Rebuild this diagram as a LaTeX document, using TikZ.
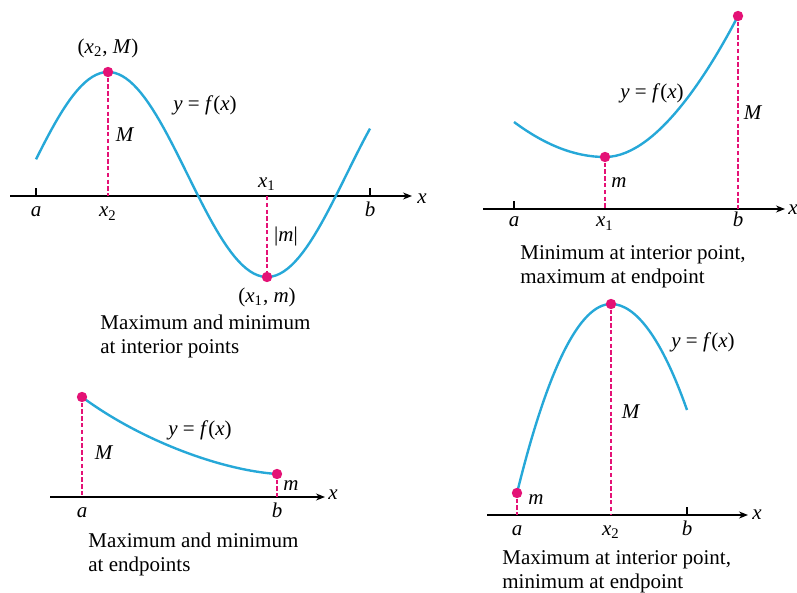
\documentclass[tikz,border=0pt]{standalone}
\usepackage{fontspec}
\setmainfont{Liberation Serif}
\usetikzlibrary{arrows.meta}
\definecolor{curveblue}{RGB}{38,168,216}
\definecolor{dotpink}{RGB}{228,18,118}
\newcommand{\iv}[1]{\textit{#1}}

\begin{document}
\begin{tikzpicture}[x=0.5pt, y=0.5pt,
    axis/.style={-{Stealth[length=4.5pt,width=3.5pt]}, line width=0.6pt},
    tickmark/.style={line width=0.6pt},
    graph/.style={curveblue, line width=1.2pt},
    drop/.style={dotpink, line width=0.65pt, dash pattern=on 2.2pt off 1.2pt},
    dot/.style={circle, fill=dotpink, inner sep=0pt, minimum size=5.2pt},
    lbl/.style={font=\fontsize{10.5}{12}\selectfont, inner sep=1pt},
    ticklbl/.style={lbl, anchor=base},
    caption/.style={font=\fontsize{10.5}{12}\selectfont, align=left, anchor=north west, inner sep=0pt}
  ]
    \useasboundingbox (0,0) rectangle (797,-593);

    \coordinate (A1s) at (10,-196);
    \coordinate (A1e) at (412,-196);
    \draw[axis] (A1s) -- (A1e);
    \node[lbl] (X1) at (422,-199) {\iv{x}};
    \draw[tickmark] (36,-196) -- (36,-188);
    \draw[tickmark] (370,-196) -- (370,-188);
    \draw[graph] plot[domain=36:370, samples=90] (\x, {-174.5+102.5*cos(1.13208*(\x-108))});
    \node[dot] (P1max) at (108,-72) {};
    \node[dot] (P1min) at (267,-277) {};
    \coordinate (F1max) at (108,-196);
    \coordinate (F1min) at (267,-196);
    \draw[drop] (P1max) -- (F1max);
    \draw[drop] (F1min) -- (P1min);
    \node[ticklbl] (a1) at (36,-217) {\iv{a}};
    \node[ticklbl] (x21) at (108,-217) {\iv{x}\textsubscript{2}};
    \node[ticklbl] (b1) at (370,-217) {\iv{b}};
    \node[lbl] (x11) at (267,-184) {\iv{x}\textsubscript{1}};
    \node[lbl] (maxlbl1) at (108,-48) {(\iv{x}\textsubscript{2}, \iv{M})};
    \node[lbl] (minlbl1) at (267,-297) {(\iv{x}\textsubscript{1}, \iv{m})};
    \node[lbl] (M1) at (125,-135) {\iv{M}};
    \node[lbl] (m1) at (286,-236) {|\iv{m}|};
    \node[lbl] (f1) at (205,-105) {\iv{y} = \iv{f}(\iv{x})};
    \node[caption] (cap1) at (100,-315) {Maximum and minimum\\at interior points};

    \coordinate (A2s) at (483,-209);
    \coordinate (A2e) at (785,-209);
    \draw[axis] (A2s) -- (A2e);
    \node[lbl] (X2) at (793,-210) {\iv{x}};
    \draw[tickmark] (514,-209) -- (514,-201);
    \draw[graph] (514,-122) .. controls (545,-145) and (575,-157) .. (605,-157)
      .. controls (660,-157) and (715,-60) .. (738,-16);
    \node[dot] (P2min) at (605,-157) {};
    \node[dot] (P2max) at (738,-16) {};
    \coordinate (F2min) at (605,-209);
    \coordinate (F2max) at (738,-209);
    \draw[drop] (P2min) -- (F2min);
    \draw[drop] (P2max) -- (F2max);
    \node[ticklbl] (a2) at (514,-227) {\iv{a}};
    \node[ticklbl] (x12) at (605,-227) {\iv{x}\textsubscript{1}};
    \node[ticklbl] (b2) at (738,-227) {\iv{b}};
    \node[lbl] (m2) at (619,-183) {\iv{m}};
    \node[lbl] (M2) at (753,-113) {\iv{M}};
    \node[lbl] (f2) at (652,-93) {\iv{y} = \iv{f}(\iv{x})};
    \node[caption] (cap2) at (520,-245) {Minimum at interior point,\\maximum at endpoint};

    \coordinate (A3s) at (50,-497);
    \coordinate (A3e) at (325,-497);
    \draw[axis] (A3s) -- (A3e);
    \node[lbl] (X3) at (333,-495) {\iv{x}};
    \draw[graph] (82,-397) .. controls (140,-440) and (220,-470) .. (277,-474);
    \node[dot] (P3max) at (82,-397) {};
    \node[dot] (P3min) at (277,-474) {};
    \coordinate (F3max) at (82,-497);
    \coordinate (F3min) at (277,-497);
    \draw[drop] (P3max) -- (F3max);
    \draw[drop] (P3min) -- (F3min);
    \node[ticklbl] (a3) at (82,-517) {\iv{a}};
    \node[ticklbl] (b3) at (277,-517) {\iv{b}};
    \node[lbl] (M3) at (104,-453) {\iv{M}};
    \node[lbl] (m3) at (291,-486) {\iv{m}};
    \node[lbl] (f3) at (200,-430) {\iv{y} = \iv{f}(\iv{x})};
    \node[caption] (cap3) at (88,-533) {Maximum and minimum\\at endpoints};

    \coordinate (A4s) at (487,-515);
    \coordinate (A4e) at (748,-515);
    \draw[axis] (A4s) -- (A4e);
    \node[lbl] (X4) at (757,-515) {\iv{x}};
    \draw[tickmark] (687,-515) -- (687,-507);
    \draw[graph] (517,-493) .. controls (548,-367) and (580,-304) .. (611,-304)
      .. controls (636,-304) and (662,-339) .. (687,-410);
    \node[dot] (P4min) at (517,-493) {};
    \node[dot] (P4max) at (611,-304) {};
    \coordinate (F4min) at (517,-515);
    \coordinate (F4max) at (611,-515);
    \draw[drop] (P4min) -- (F4min);
    \draw[drop] (P4max) -- (F4max);
    \node[ticklbl] (a4) at (517,-535) {\iv{a}};
    \node[ticklbl] (x24) at (611,-535) {\iv{x}\textsubscript{2}};
    \node[ticklbl] (b4) at (687,-535) {\iv{b}};
    \node[lbl] (m4) at (536,-500) {\iv{m}};
    \node[lbl] (M4) at (631,-412) {\iv{M}};
    \node[lbl] (f4) at (703,-342) {\iv{y} = \iv{f}(\iv{x})};
    \node[caption] (cap4) at (502,-550) {Maximum at interior point,\\minimum at endpoint};
  \end{tikzpicture}
\end{document}
